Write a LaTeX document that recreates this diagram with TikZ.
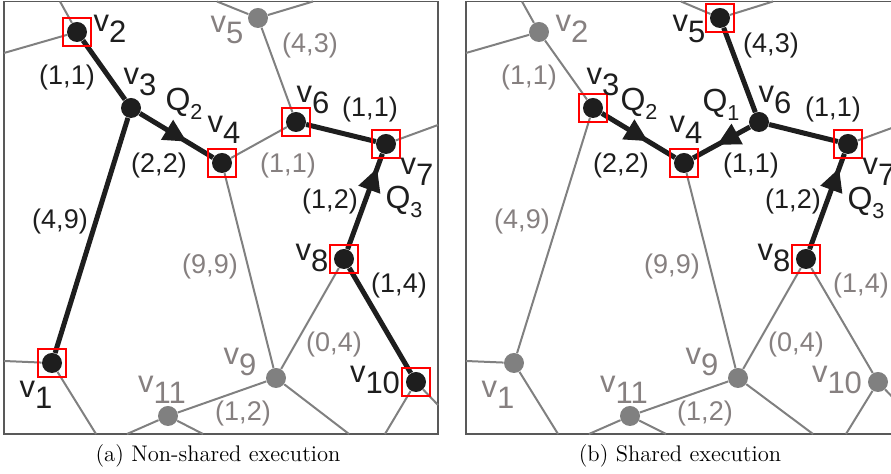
\documentclass[tikz,border=0pt]{standalone}
\usepackage{fontspec}
\newfontfamily\labelfont{Liberation Sans}
\usepackage{xcolor}
\usetikzlibrary{arrows.meta,decorations.markings}
\definecolor{ink}{RGB}{30,30,30}
\definecolor{road}{RGB}{128,128,128}
\definecolor{roadtext}{RGB}{134,128,128}
\newcommand{\vname}[1]{v\raisebox{-5.8pt}{#1}}
\newcommand{\qname}[1]{Q\raisebox{-4.5pt}{\fontsize{10.8}{12}\selectfont #1}}

\begin{document}
\begin{tikzpicture}[x=0.5pt,y=-0.5pt,
    dot/.style={circle,fill=ink,inner sep=0pt,minimum size=10pt},
    gdot/.style={dot,fill=road},
    pick/.style={draw=red,line width=1pt,inner sep=0pt,minimum size=13.7pt},
    street/.style={road,line width=1pt},
    route/.style={ink,line width=2.5pt},
    flow/.style={postaction={decorate},decoration={markings,
      mark=at position #1 with {\arrow{Triangle[length=11.5pt,width=11pt]}}}},
    vlab/.style={font=\labelfont\fontsize{15.5}{18}\selectfont,text=ink,inner sep=0pt},
    gvlab/.style={vlab,text=roadtext},
    elab/.style={font=\labelfont\fontsize{13.5}{16}\selectfont,text=ink,inner sep=0pt},
    gelab/.style={elab,text=roadtext},
    qlab/.style={font=\labelfont\fontsize{16}{18}\selectfont,text=ink,inner sep=0pt},
    frame/.style={draw=black!65,line width=0.75pt}]
  \path[use as bounding box,clip] (0,0) rectangle (891,474);

  % ---------------- (a) non-shared ----------------
  \begin{scope}
    \draw[frame] (4,1.5) rectangle (438,434);
    % border points
    \coordinate (aT1) at (60,1.5);
    \coordinate (aT2) at (217,1.5);
    \coordinate (aT3) at (313,1.5);
    \coordinate (aL1) at (4,53);
    \coordinate (aL2) at (4,361);
    \coordinate (aR1) at (438,125);
    \coordinate (aR2) at (438,405);
    \coordinate (aB1) at (96,434);
    \coordinate (aB2) at (127,434);
    \coordinate (aB3) at (203,434);
    \coordinate (aB4) at (349,434);
    \coordinate (aB5) at (385,434);
    % vertices
    \node[dot] (a1) at (52,363) {};
    \node[dot] (a2) at (77,32) {};
    \node[dot] (a3) at (131,108) {};
    \node[dot] (a4) at (222,163) {};
    \node[gdot] (a5) at (258,18) {};
    \node[dot] (a6) at (296,122) {};
    \node[dot] (a7) at (386,144) {};
    \node[dot] (a8) at (344,259) {};
    \node[gdot] (a9) at (276,378) {};
    \node[dot] (a10) at (416,382) {};
    \node[gdot] (a11) at (168,416) {};
    % road network
    \draw[street] (aT1) -- (a2);
    \draw[street] (aL1) -- (a2);
    \draw[street] (aT2) -- (a5) -- (aT3);
    \draw[street] (a5) -- (a6);
    \draw[street] (a4) -- (a6);
    \draw[street] (a4) -- (a9);
    \draw[street] (a7) -- (aR1);
    \draw[street] (a8) -- (a9);
    \draw[street] (a9) -- (aB4);
    \draw[street] (a9) -- (a11);
    \draw[street] (aB2) -- (a11) -- (aB3);
    \draw[street] (aL2) -- (a1) -- (aB1);
    \draw[street] (aB5) -- (a10) -- (aR2);
    % query routes
    \draw[route] (a2) -- (a3);
    \draw[route] (a3) -- (a1);
    \draw[route,flow=0.64] (a3) -- (a4);
    \draw[route] (a6) -- (a7);
    \draw[route,flow=0.85] (a8) -- (a7);
    \draw[route] (a8) -- (a10);
    % endpoints
    \node[pick] at (a1) {};
    \node[pick] at (a2) {};
    \node[pick] at (a4) {};
    \node[pick] at (a6) {};
    \node[pick] at (a7) {};
    \node[pick] at (a8) {};
    \node[pick] at (a10) {};
    % labels
    \node[vlab] (la1) at (36,395) {\vname{1}};
    \node[vlab] (la2) at (110,29) {\vname{2}};
    \node[vlab] (la3) at (140,82) {\vname{3}};
    \node[vlab] (la4) at (224,130) {\vname{4}};
    \node[gvlab] (la5) at (227,30) {\vname{5}};
    \node[vlab] (la6) at (313,100) {\vname{6}};
    \node[vlab] (la7) at (417,172) {\vname{7}};
    \node[vlab] (la8) at (312,258) {\vname{8}};
    \node[gvlab] (la9) at (240,362) {\vname{9}};
    \node[vlab] (la10) at (375,380) {\vname{10}};
    \node[gvlab] (la11) at (162,390) {\vname{11}};
    \node[qlab] (qa2) at (184,104) {\qname{2}};
    \node[qlab] (qa3) at (404,202) {\qname{3}};
    \node[elab] (ea1) at (67,78) {(1,1)};
    \node[elab] (ea2) at (159,166) {(2,2)};
    \node[gelab] (ea3) at (310,46) {(4,3)};
    \node[elab] (ea4) at (370,110) {(1,1)};
    \node[gelab] (ea5) at (288,166) {(1,1)};
    \node[elab] (ea6) at (330,202) {(1,2)};
    \node[elab] (ea7) at (60,222) {(4,9)};
    \node[gelab] (ea8) at (210,267) {(9,9)};
    \node[elab] (ea9) at (399,286) {(1,4)};
    \node[gelab] (ea10) at (334,345) {(0,4)};
    \node[gelab] (ea11) at (243,414) {(1,2)};
    \node[font=\fontsize{11.3}{13}\selectfont] (capa) at (218,456) {(a) Non-shared execution};
  \end{scope}

  % ---------------- (b) shared ----------------
  \begin{scope}[shift={(462,0)}]
    \draw[frame] (4,1.5) rectangle (438,434);
    % border points
    \coordinate (bT1) at (60,1.5);
    \coordinate (bT2) at (219,1.5);
    \coordinate (bT3) at (311,1.5);
    \coordinate (bL1) at (4,53);
    \coordinate (bL2) at (4,361);
    \coordinate (bR1) at (438,125);
    \coordinate (bR2) at (438,405);
    \coordinate (bB1) at (96,434);
    \coordinate (bB2) at (127,434);
    \coordinate (bB3) at (204,434);
    \coordinate (bB4) at (351,434);
    \coordinate (bB5) at (384,434);
    % vertices
    \node[gdot] (b1) at (52,363) {};
    \node[gdot] (b2) at (77,32) {};
    \node[dot] (b3) at (131,108) {};
    \node[dot] (b4) at (222,163) {};
    \node[dot] (b5) at (258,18) {};
    \node[dot] (b6) at (297,122) {};
    \node[dot] (b7) at (386,144) {};
    \node[dot] (b8) at (344,259) {};
    \node[gdot] (b9) at (276,378) {};
    \node[gdot] (b10) at (416,382) {};
    \node[gdot] (b11) at (168,416) {};
    % road network
    \draw[street] (bT1) -- (b2);
    \draw[street] (bL1) -- (b2);
    \draw[street] (b2) -- (b3);
    \draw[street] (b3) -- (b1);
    \draw[street] (bT2) -- (b5) -- (bT3);
    \draw[street] (b4) -- (b9);
    \draw[street] (b7) -- (bR1);
    \draw[street] (b8) -- (b9);
    \draw[street] (b8) -- (b10);
    \draw[street] (b9) -- (bB4);
    \draw[street] (b9) -- (b11);
    \draw[street] (bB2) -- (b11) -- (bB3);
    \draw[street] (bL2) -- (b1) -- (bB1);
    \draw[street] (bB5) -- (b10) -- (bR2);
    % query routes
    \draw[route,flow=0.63] (b3) -- (b4);
    \draw[route] (b5) -- (b6);
    \draw[route,flow=0.58] (b6) -- (b4);
    \draw[route] (b6) -- (b7);
    \draw[route,flow=0.85] (b8) -- (b7);
    % endpoints
    \node[pick] at (b3) {};
    \node[pick] at (b4) {};
    \node[pick] at (b5) {};
    \node[pick] at (b7) {};
    \node[pick] at (b8) {};
    % labels
    \node[gvlab] (lb1) at (36,395) {\vname{1}};
    \node[gvlab] (lb2) at (110,29) {\vname{2}};
    \node[vlab] (lb3) at (141,82) {\vname{3}};
    \node[vlab] (lb4) at (224,130) {\vname{4}};
    \node[vlab] (lb5) at (227,29) {\vname{5}};
    \node[vlab] (lb6) at (313,100) {\vname{6}};
    \node[vlab] (lb7) at (417,172) {\vname{7}};
    \node[vlab] (lb8) at (312,258) {\vname{8}};
    \node[gvlab] (lb9) at (240,362) {\vname{9}};
    \node[gvlab] (lb10) at (375,380) {\vname{10}};
    \node[gvlab] (lb11) at (162,390) {\vname{11}};
    \node[qlab] (qb1) at (259,105) {\qname{1}};
    \node[qlab] (qb2) at (177,104) {\qname{2}};
    \node[qlab] (qb3) at (404,203) {\qname{3}};
    \node[gelab] (eb1) at (67,78) {(1,1)};
    \node[elab] (eb2) at (159,166) {(2,2)};
    \node[elab] (eb3) at (309,46) {(4,3)};
    \node[elab] (eb4) at (371,110) {(1,1)};
    \node[elab] (eb5) at (289,166) {(1,1)};
    \node[elab] (eb6) at (331,202) {(1,2)};
    \node[gelab] (eb7) at (60,222) {(4,9)};
    \node[gelab] (eb8) at (210,267) {(9,9)};
    \node[gelab] (eb9) at (399,286) {(1,4)};
    \node[gelab] (eb10) at (334,345) {(0,4)};
    \node[gelab] (eb11) at (243,414) {(1,2)};
    \node[font=\fontsize{11.3}{13}\selectfont] (capb) at (218,456) {(b) Shared execution};
  \end{scope}
\end{tikzpicture}
\end{document}
